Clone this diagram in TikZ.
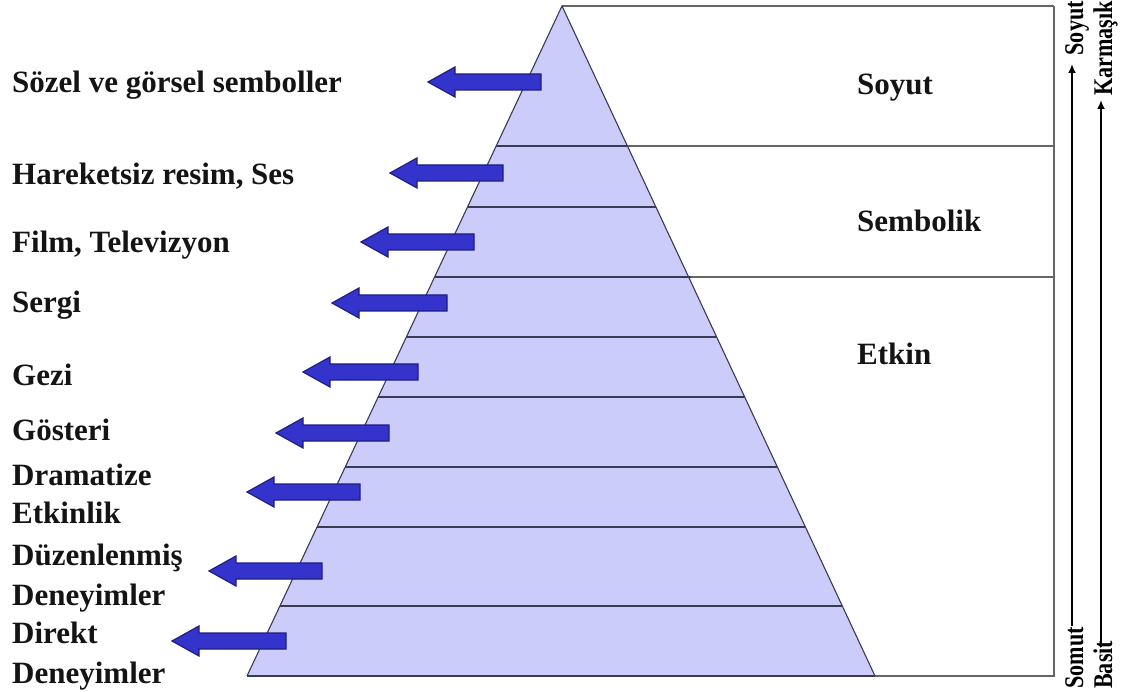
\documentclass[tikz,border=0pt]{standalone}
\usepackage{fontspec}
\setmainfont{Liberation Serif}
\usepackage{graphicx}
\definecolor{pyrfill}{HTML}{CCCCFA}
\definecolor{pyrline}{HTML}{3A3A55}
\definecolor{boxline}{HTML}{666666}
\definecolor{arrfill}{HTML}{3434CC}
\definecolor{arrline}{HTML}{1E1E80}
\tikzset{
  lbl/.style={anchor=base west, inner sep=0pt, font=\fontsize{31}{36}\selectfont\bfseries, text=black!92},
  vlbl/.style={rotate=90, inner sep=0pt, font=\fontsize{27}{30}\selectfont\bfseries},
  blockarrow/.style={fill=arrfill, draw=arrline, line width=1.2pt, line join=miter},
  layerline/.style={draw=pyrline, line width=1.3pt},
  boxedge/.style={draw=boxline, line width=1.6pt},
  scalearrow/.style={draw=black, line width=2.4pt, -{Latex[length=9pt,width=8pt]}}
}
\usetikzlibrary{arrows.meta}
\begin{document}
\begin{tikzpicture}[x=1pt,y=-1pt]
\useasboundingbox (0,0) rectangle (1132,692);
% pyramid
\coordinate (apex) at (562,6);
\coordinate (bl) at (247,676);
\coordinate (br) at (875,676);
\fill[pyrfill] (apex) -- (bl) -- (br) -- cycle;
% box to the right
\coordinate (tr) at (1054,6);
\coordinate (brr) at (1054,676);
\draw[boxedge, line width=1.2pt] (apex) -- (tr);
\draw[boxedge] (tr) -- (brr) -- (br);
% layer lines
\draw[layerline] (496.2,146) -- (1054,146);
\draw[layerline] (434.6,277) -- (1054,277);
\draw[boxedge] (627.4,146) -- (1054,146);
\draw[boxedge] (690.6,277) -- (1054,277);
\draw[layerline] (467.5,207) -- (655.9,207);
\draw[layerline] (406.4,337) -- (716.6,337);
\draw[layerline] (378.2,397) -- (744.7,397);
\draw[layerline] (345.3,467) -- (777.4,467);
\draw[layerline] (317.1,527) -- (805.4,527);
\draw[layerline] (279.9,606) -- (842.3,606);
\draw[pyrline, line width=1.1pt] (bl) -- (apex) -- (br);
\draw[layerline] (bl) -- (br);
% block arrows: tail x / tip x / y
\foreach \tl/\tp/\yy [count=\i] in {541/428/82, 503/390/173, 474/361/242, 447/332/303, 418/303/372, 389/276/433, 360/247/492, 322/209/571, 286/172/641}{
  \draw[blockarrow] (\tl,\yy-8) -- (\tp+27,\yy-8) -- (\tp+27,\yy-15) -- (\tp,\yy) -- (\tp+27,\yy+15) -- (\tp+27,\yy+8) -- (\tl,\yy+8) -- cycle;
}
% left labels
\node[lbl] (l1) at (12,93) {Sözel ve görsel semboller};
\node[lbl] (l2) at (12,185) {Hareketsiz resim, Ses};
\node[lbl] (l3) at (12,253) {Film, Televizyon};
\node[lbl] (l4) at (12,313) {Sergi};
\node[lbl] (l5) at (12,385) {Gezi};
\node[lbl] (l6) at (12,440) {Gösteri};
\node[lbl] (l7) at (12,485) {Dramatize};
\node[lbl] (l8) at (12,523) {Etkinlik};
\node[lbl] (l9) at (12,565) {Düzenlenmiş};
\node[lbl] (l10) at (12,605) {Deneyimler};
\node[lbl] (l11) at (12,643) {Direkt};
\node[lbl] (l12) at (12,683) {Deneyimler};
% right labels
\node[lbl] (soyut) at (857,95) {Soyut};
\node[lbl] (sembolik) at (857,232) {Sembolik};
\node[lbl] (etkin) at (857,365) {Etkin};
% vertical scales
\node[vlbl, anchor=base west] (somut) at (1083,689) {\scalebox{0.82}[1]{Somut}};
\node[vlbl, anchor=base east] (soyutv) at (1083,1) {\scalebox{0.82}[1]{Soyut}};
\node[vlbl, anchor=base west] (basit) at (1112,689) {\scalebox{0.82}[1]{Basit}};
\node[vlbl, anchor=base east] (karmasik) at (1112,1) {\scalebox{0.82}[1]{Karmaşık}};
\draw[scalearrow] (1072,626) -- (1072,64);
\draw[scalearrow] (1101,647) -- (1101,100);
\end{tikzpicture}
\end{document}
